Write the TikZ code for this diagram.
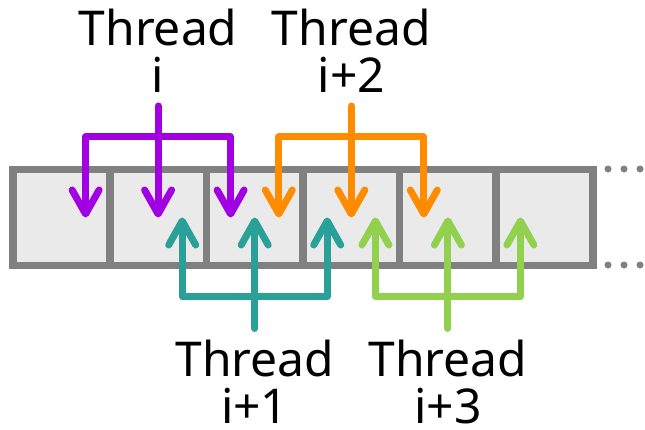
\documentclass[tikz,border=0pt]{standalone}
\usepackage{fontspec}
\setmainfont{Noto Sans}
\usetikzlibrary{arrows.meta,positioning}

\definecolor{cellgray}{RGB}{128,128,128}
\definecolor{cellfill}{RGB}{234,234,234}
\definecolor{thrpurple}{RGB}{160,0,226}
\definecolor{thrteal}{RGB}{42,161,152}
\definecolor{throrange}{RGB}{255,140,0}
\definecolor{thrgreen}{RGB}{146,208,80}

\tikzset{
  cell/.style={draw=cellgray,fill=cellfill,line width=7.5pt,minimum width=96.6pt,minimum height=96pt,inner sep=0pt,outer sep=0pt},
  fork/.style={line width=7pt,line cap=round,line join=round},
  forktip/.style={fork,-{Straight Barb[round,length=24pt,width=27pt]}},
  thrlabel/.style={font=\fontsize{48}{47}\selectfont,align=center,inner sep=0pt},
}

\begin{document}
\begin{tikzpicture}[x=1pt,y=-1pt]
\useasboundingbox (0,0) rectangle (645,430);
% memory cells
\foreach \i in {1,...,6}
  \node[cell] (c\i) at ({61.5+96.6*(\i-1)},217.5) {};
% the row goes on
\foreach \x in {608,624,640}{
  \fill[cellgray] (\x,169) circle (3.5);
  \fill[cellgray] (\x,265) circle (3.5);
}
% threads i and i+2 reach down
\foreach \k/\c/\lab/\col in {0/2/i/thrpurple,2/4/i+2/throrange}{
  \coordinate (t\k-m) at (c\c.center);
  \coordinate (t\k-l) at ([xshift=-72.5pt]c\c.center);
  \coordinate (t\k-r) at ([xshift=72.5pt]c\c.center);
  \coordinate (t\k-bar) at ([yshift=80.5pt]c\c.center);
  \coordinate (t\k-end) at ([yshift=111.5pt]c\c.center);
  \node[thrlabel,above=13pt of t\k-end] (t\k) {Thread\\\lab};
  \draw[forktip,\col] (t\k-end) -- (t\k-m);
  \draw[forktip,\col] (t\k-bar) -| (t\k-l);
  \draw[forktip,\col] (t\k-bar) -| (t\k-r);
}
% threads i+1 and i+3 reach up
\foreach \k/\c/\lab/\col in {1/3/i+1/thrteal,3/5/i+3/thrgreen}{
  \coordinate (t\k-m) at (c\c.center);
  \coordinate (t\k-l) at ([xshift=-72.5pt]c\c.center);
  \coordinate (t\k-r) at ([xshift=72.5pt]c\c.center);
  \coordinate (t\k-bar) at ([yshift=-79.5pt]c\c.center);
  \coordinate (t\k-end) at ([yshift=-111pt]c\c.center);
  \node[thrlabel,below=11pt of t\k-end] (t\k) {Thread\\\lab};
  \draw[forktip,\col] (t\k-end) -- (t\k-m);
  \draw[forktip,\col] (t\k-bar) -| (t\k-l);
  \draw[forktip,\col] (t\k-bar) -| (t\k-r);
}
\end{tikzpicture}
\end{document}
